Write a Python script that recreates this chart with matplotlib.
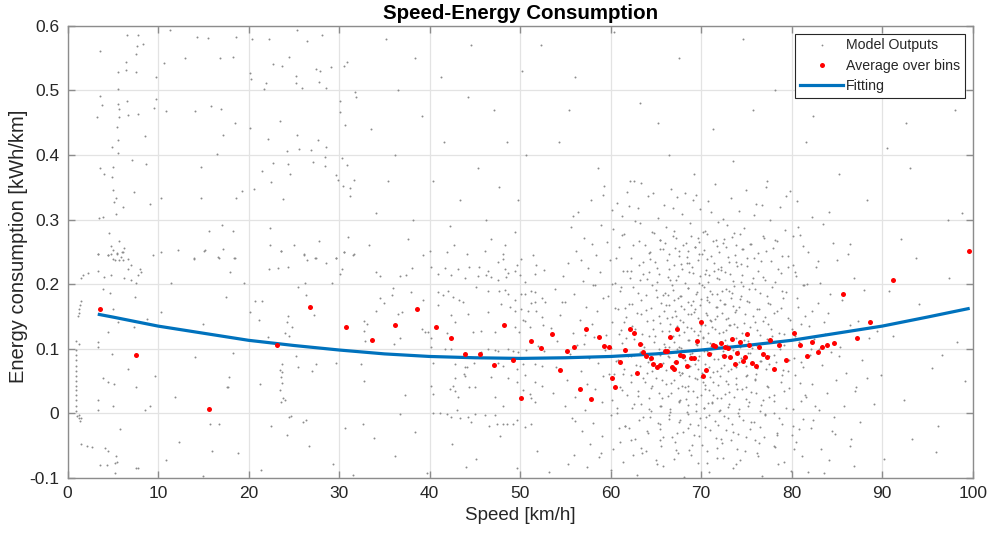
import matplotlib
matplotlib.use('Agg')
import matplotlib.pyplot as plt
from matplotlib.lines import Line2D

plt.rcParams['font.family'] = ['Liberation Sans', 'DejaVu Sans']

# ---------------- data ----------------
title = 'Speed-Energy Consumption'
x_label = 'Speed [km/h]'
y_label = 'Energy consumption [kWh/km]'
x_ticks = [0, 10, 20, 30, 40, 50, 60, 70, 80, 90, 100]
y_ticks = [-0.1, 0, 0.1, 0.2, 0.3, 0.4, 0.5, 0.6]
y_tick_labels = ['-0.1', '0', '0.1', '0.2', '0.3', '0.4', '0.5', '0.6']

# red points: average over bins
avg_speed = [3.54, 7.51, 15.65, 23.13, 26.77, 30.72, 33.62, 36.13, 38.56, 40.73,
             42.39, 43.90, 45.59, 47.07, 48.24, 49.20, 50.09, 51.16, 52.30, 53.51,
             54.36, 55.14, 55.91, 56.64, 57.27, 57.86, 58.67, 59.23, 59.78, 60.14,
             60.48, 61.03, 61.58, 62.10, 62.57, 62.94, 63.27, 63.57, 63.93, 64.45,
             64.71, 65.11, 65.48, 65.97, 66.22, 66.52, 66.77, 66.99, 67.21, 67.36,
             67.66, 67.96, 68.46, 68.84, 69.20, 69.54, 69.94, 70.17, 70.50, 70.90,
             71.27, 71.52, 72.22, 72.49, 72.66, 72.96, 73.18, 73.44, 73.70, 73.99,
             74.25, 74.59, 74.81, 75.09, 75.31, 75.65, 76.05, 76.35, 76.83, 77.24,
             77.64, 78.01, 78.56, 79.37, 80.29, 80.95, 81.66, 82.28, 82.94, 83.38,
             83.93, 84.71, 85.67, 87.18, 88.65, 91.23, 99.56]
avg_energy = [0.161, 0.091, 0.007, 0.106, 0.164, 0.134, 0.114, 0.136, 0.162, 0.134,
              0.116, 0.092, 0.092, 0.075, 0.136, 0.083, 0.024, 0.112, 0.101, 0.123,
              0.067, 0.096, 0.103, 0.038, 0.130, 0.022, 0.118, 0.104, 0.103, 0.054,
              0.041, 0.080, 0.098, 0.130, 0.124, 0.063, 0.108, 0.095, 0.089, 0.086,
              0.076, 0.071, 0.075, 0.096, 0.096, 0.118, 0.071, 0.069, 0.080, 0.131,
              0.090, 0.088, 0.073, 0.085, 0.085, 0.112, 0.141, 0.057, 0.067, 0.092,
              0.105, 0.104, 0.109, 0.088, 0.102, 0.101, 0.087, 0.115, 0.076, 0.093,
              0.111, 0.081, 0.087, 0.123, 0.106, 0.078, 0.073, 0.102, 0.092, 0.087,
              0.114, 0.068, 0.105, 0.083, 0.125, 0.106, 0.088, 0.111, 0.095, 0.102,
              0.105, 0.109, 0.184, 0.117, 0.142, 0.207, 0.251]

# blue fitting curve
fit_speed = [3.5, 5, 10, 15, 20, 25, 30, 35, 40, 45, 50, 55, 60, 65, 70, 75, 80, 85, 90, 95, 99.5]
fit_energy = [0.153, 0.149, 0.135, 0.124, 0.113, 0.105, 0.098, 0.092, 0.088, 0.086, 0.085,
              0.086, 0.088, 0.092, 0.098, 0.105, 0.113, 0.124, 0.135, 0.149, 0.162]

# grey points: model outputs (speed, energy)
gray_streak = [(0.9, 0.098), (0.9, 0.090), (0.95, 0.082), (0.9, 0.074), (0.95, 0.066), (0.9, 0.058),
               (0.95, 0.050), (0.9, 0.043), (0.95, 0.036), (0.9, 0.028), (0.95, 0.020), (0.9, 0.012),
               (0.95, 0.004), (1.0, -0.004), (1.2, -0.008), (1.4, -0.012), (1.3, -0.003), (1.5, -0.007),
               (1.1, 0.150), (1.2, 0.156), (1.3, 0.162), (1.4, 0.168), (1.5, 0.174), (1.2, 0.108), (0.9, 0.112)]
gray_bottom = [(1.5, -0.048), (2.1, -0.050), (2.7, -0.052), (4.1, -0.054), (4.5, -0.058), (5.3, -0.066),
               (5.4, -0.075), (5.2, -0.077), (3.6, -0.080), (4.3, -0.080), (5.2, -0.093), (7.5, -0.084),
               (7.8, -0.084), (10.9, -0.072), (15.0, -0.097), (12.3, -0.045), (18.8, -0.062), (21.4, -0.088),
               (26.7, -0.051), (29.3, -0.079), (33.8, -0.038), (36.2, -0.066), (39.7, -0.092), (42.5, -0.047),
               (45.1, -0.071), (47.8, -0.035), (49.6, -0.085), (51.9, -0.058), (38.4, -0.029), (31.5, -0.095),
               (24.2, -0.033), (15.9, -0.058), (53.2, -0.091), (44.0, -0.083)]
gray_top_left = [(6.6, 0.585), (7.8, 0.585), (3.6, 0.561), (7.7, 0.569), (8.3, 0.572), (7.5, 0.557), (6.4, 0.544),
                 (5.6, 0.528), (6.4, 0.532), (7.6, 0.528), (5.6, 0.502), (9.8, 0.520), (11.3, 0.594), (14.3, 0.582),
                 (15.5, 0.581), (18.6, 0.583), (10.6, 0.543), (13.0, 0.550), (16.8, 0.550), (18.3, 0.552),
                 (20.4, 0.579), (22.2, 0.580), (25.3, 0.593), (26.4, 0.576), (28.1, 0.586), (24.5, 0.552),
                 (22.7, 0.541), (23.7, 0.538), (20.1, 0.527), (20.3, 0.517), (21.9, 0.512), (21.7, 0.502),
                 (25.2, 0.522), (25.2, 0.511), (25.9, 0.503), (27.4, 0.533), (27.9, 0.530), (27.8, 0.513),
                 (28.6, 0.503), (29.1, 0.536), (30.5, 0.537), (30.9, 0.544), (3.6, 0.491), (3.8, 0.478),
                 (3.2, 0.458), (5.6, 0.479), (6.6, 0.483), (5.7, 0.471), (5.7, 0.458), (6.7, 0.462), (7.8, 0.464),
                 (9.5, 0.473), (9.8, 0.486), (5.5, 0.444), (5.6, 0.423), (4.9, 0.412), (5.6, 0.403), (8.5, 0.430),
                 (10.9, 0.468), (14.1, 0.468), (15.8, 0.475), (16.9, 0.471), (18.5, 0.449), (17.2, 0.431),
                 (16.5, 0.402), (20.2, 0.441), (22.1, 0.425), (23.5, 0.453), (25.3, 0.431), (24.2, 0.406),
                 (25.6, 0.409), (26.9, 0.408), (27.7, 0.423), (28.5, 0.412), (30.1, 0.483), (30.1, 0.467),
                 (30.7, 0.447), (31.7, 0.498), (31.9, 0.490), (3.6, 0.380), (5.0, 0.381), (4.0, 0.371),
                 (4.9, 0.366), (7.1, 0.392), (8.7, 0.386), (5.0, 0.346), (7.3, 0.343), (5.3, 0.333), (5.1, 0.327),
                 (6.1, 0.320), (9.1, 0.324), (5.3, 0.308), (3.5, 0.303), (3.9, 0.304), (10.3, 0.334), (14.7, 0.381),
                 (14.7, 0.334), (18.6, 0.333), (19.3, 0.344), (20.6, 0.347), (21.5, 0.375), (22.7, 0.387),
                 (22.5, 0.358), (24.4, 0.386), (24.6, 0.371), (23.8, 0.332), (27.1, 0.389), (28.4, 0.397),
                 (28.4, 0.383), (30.3, 0.396), (30.9, 0.385), (29.7, 0.369), (29.9, 0.361), (30.4, 0.352),
                 (31.2, 0.349), (31.2, 0.337), (31.6, 0.361), (4.6, 0.279), (4.8, 0.259), (5.0, 0.253), (5.7, 0.266),
                 (6.2, 0.256), (6.1, 0.249), (3.4, 0.246), (4.5, 0.245), (5.5, 0.247), (5.0, 0.239), (6.7, 0.239),
                 (9.4, 0.245), (10.3, 0.250), (12.2, 0.253), (14.0, 0.239), (15.1, 0.252), (15.6, 0.283),
                 (17.0, 0.292), (18.3, 0.282), (17.2, 0.254), (18.4, 0.240), (16.7, 0.241), (22.4, 0.287),
                 (22.4, 0.260), (23.6, 0.252), (25.0, 0.260), (27.8, 0.267), (26.1, 0.246), (27.3, 0.241),
                 (29.6, 0.241), (30.5, 0.250), (31.0, 0.273), (31.6, 0.246)]
gray_mid_left = [(3.4, 0.247), (4.5, 0.245), (4.8, 0.247), (5.5, 0.248), (6.0, 0.249), (5.9, 0.242), (6.1, 0.238),
                 (5.2, 0.238), (5.7, 0.237), (7.0, 0.230), (6.7, 0.224), (8.0, 0.224), (8.1, 0.219), (7.8, 0.214),
                 (7.6, 0.201), (1.7, 0.214), (1.5, 0.209), (2.2, 0.217), (3.4, 0.221), (4.0, 0.211), (4.8, 0.214),
                 (6.2, 0.209), (7.0, 0.206), (11.4, 0.201), (14.0, 0.240),
                 (15.2, 0.253), (16.6, 0.242), (3.9, 0.193), (4.7, 0.186), (7.4, 0.180), (17.5, 0.180),
                 (5.0, 0.161), (10.3, 0.157), (8.8, 0.146), (5.6, 0.142), (7.3, 0.134), (4.5, 0.126),
                 (15.0, 0.138), (3.4, 0.111), (3.4, 0.102), (4.9, 0.092), (6.7, 0.069), (3.9, 0.054),
                 (4.5, 0.049), (5.1, 0.045), (7.5, 0.040), (9.7, 0.058), (14.1, 0.087), (11.9, 0.025),
                 (17.6, 0.040), (3.4, 0.020), (3.4, 0.005), (5.0, 0.011), (9.1, 0.011), (8.6, 0.005),
                 (15.7, -0.017), (16.7, -0.017), (5.8, -0.024),
                 (18.5, 0.241), (23.6, 0.252), (26.1, 0.245), (26.4, 0.237), (27.4, 0.241), (29.7, 0.241),
                 (30.5, 0.250), (31.5, 0.245), (28.6, 0.232), (17.9, 0.219), (22.2, 0.224), (23.2, 0.225),
                 (24.3, 0.226), (30.3, 0.224), (30.1, 0.215), (34.1, 0.218), (34.5, 0.213), (19.5, 0.202),
                 (26.2, 0.201), (25.5, 0.196), (26.3, 0.183), (29.2, 0.202), (20.7, 0.174), (21.5, 0.174),
                 (20.1, 0.157), (24.3, 0.151), (27.2, 0.152), (21.1, 0.144), (24.2, 0.142), (24.8, 0.134),
                 (24.0, 0.125), (24.5, 0.120), (22.1, 0.118), (34.5, 0.178), (35.0, 0.171), (34.1, 0.159),
                 (32.7, 0.143), (33.1, 0.139), (32.7, 0.127), (32.9, 0.112), (18.3, 0.093), (23.7, 0.077),
                 (23.5, 0.067), (23.7, 0.064), (23.6, 0.056), (23.7, 0.047), (23.5, 0.036), (23.8, 0.023),
                 (24.0, 0.021), (23.6, 0.018), (25.2, 0.089), (25.4, 0.072), (27.0, 0.065), (27.4, 0.077),
                 (29.6, 0.078), (32.4, 0.077), (17.8, 0.056), (17.7, 0.040), (21.3, 0.045), (32.8, 0.050),
                 (24.5, -0.005), (24.7, -0.004), (22.5, -0.020), (26.0, -0.013), (26.3, -0.011), (30.7, -0.022),
                 (32.6, -0.017)]
gray_mid = [(39.3, 0.245), (40.0, 0.251), (41.9, 0.250), (44.1, 0.247), (46.1, 0.252), (48.1, 0.246), (48.1, 0.239),
            (50.1, 0.239), (51.4, 0.245), (40.2, 0.226), (41.7, 0.225), (43.1, 0.224), (44.4, 0.226), (45.4, 0.226),
            (46.5, 0.221), (47.5, 0.234), (48.3, 0.224), (49.6, 0.229), (51.8, 0.229), (37.4, 0.214), (36.7, 0.212),
            (38.0, 0.225), (40.9, 0.215), (42.4, 0.214), (43.9, 0.210), (45.3, 0.212), (46.2, 0.214), (46.8, 0.211),
            (47.6, 0.207), (48.4, 0.211), (48.7, 0.217), (49.4, 0.221), (50.0, 0.214), (50.5, 0.203), (51.6, 0.215),
            (52.6, 0.222), (36.0, 0.194), (35.8, 0.183), (37.9, 0.188), (39.3, 0.176), (40.9, 0.188), (41.5, 0.183),
            (42.0, 0.190), (42.6, 0.180), (43.2, 0.175), (43.7, 0.172), (45.1, 0.196), (46.5, 0.190), (47.7, 0.189),
            (48.3, 0.191), (48.7, 0.185), (49.4, 0.176), (50.1, 0.185), (50.5, 0.184), (51.2, 0.190), (51.6, 0.188),
            (52.4, 0.179), (52.7, 0.172), (51.6, 0.172), (51.2, 0.171), (36.9, 0.157), (36.5, 0.153), (40.9, 0.167),
            (42.4, 0.152), (44.2, 0.153), (46.4, 0.157), (47.9, 0.170), (48.9, 0.164), (49.4, 0.158), (50.1, 0.162),
            (50.9, 0.158), (51.8, 0.158), (52.4, 0.149), (50.3, 0.144), (39.1, 0.131), (39.5, 0.126), (39.8, 0.126),
            (40.2, 0.116), (41.9, 0.124), (42.8, 0.141), (44.8, 0.126), (45.7, 0.128), (47.2, 0.126), (49.4, 0.134),
            (49.9, 0.126), (50.5, 0.143), (51.1, 0.134), (52.5, 0.136), (36.7, 0.116), (36.1, 0.108), (40.2, 0.103),
            (41.7, 0.099), (42.4, 0.099), (46.5, 0.099), (47.2, 0.098), (47.6, 0.096), (45.7, 0.095), (48.7, 0.099),
            (49.2, 0.096), (49.8, 0.095), (50.7, 0.098), (52.0, 0.104), (52.6, 0.096), (40.4, 0.078), (42.8, 0.077),
            (43.9, 0.071), (44.1, 0.071), (44.9, 0.078), (47.6, 0.078), (48.1, 0.073), (49.6, 0.069), (50.3, 0.077),
            (51.6, 0.077), (52.4, 0.074), (43.8, 0.061), (43.9, 0.057), (42.8, 0.054), (40.2, 0.043), (42.2, 0.038),
            (42.6, 0.043), (44.4, 0.041), (45.0, 0.040), (46.8, 0.056), (48.7, 0.054), (49.6, 0.048), (50.5, 0.059),
            (51.6, 0.048), (52.4, 0.043), (37.3, 0.028), (40.4, 0.030), (42.8, 0.034), (43.1, 0.025), (47.2, 0.025),
            (48.1, 0.012), (50.3, 0.036), (51.1, 0.030), (51.2, 0.024), (51.6, 0.018), (36.7, -0.001), (40.4, 0.000),
            (41.1, 0.000), (41.9, -0.001), (42.4, -0.005), (43.0, 0.005), (43.3, -0.008), (44.2, -0.006),
            (44.6, -0.013), (45.0, -0.001), (46.1, -0.003), (47.2, -0.003), (47.4, -0.016), (48.1, -0.016),
            (48.6, -0.016), (49.2, -0.016), (49.7, -0.011), (46.6, -0.019), (50.5, -0.021), (51.2, -0.016)]
gray_upper = [(35.2, 0.58), (38.4, 0.55), (41.3, 0.52), (44.6, 0.57), (47.1, 0.47), (33.5, 0.44), (36.2, 0.40),
              (40.4, 0.36), (43.3, 0.33), (46.2, 0.30), (49.4, 0.28), (34.1, 0.31), (37.6, 0.27), (42.2, 0.29),
              (45.3, 0.38), (48.6, 0.42), (50.2, 0.53), (39.1, 0.46), (44.2, 0.49), (47.7, 0.35), (33.3, 0.26),
              (49.8, 0.33), (36.5, 0.50), (41.6, 0.42), (46.8, 0.27), (38.2, 0.30), (42.7, 0.26), (48.3, 0.26),
              (35.4, 0.36), (50.6, 0.40), (52.3, 0.57), (56.1, 0.52), (60.4, 0.59), (63.2, 0.48), (67.5, 0.55),
              (71.3, 0.44), (74.6, 0.58), (78.2, 0.50), (82.4, 0.46), (86.3, 0.56), (90.5, 0.41), (94.2, 0.53),
              (98.1, 0.47), (54.3, 0.42), (58.6, 0.38), (62.1, 0.36), (66.4, 0.40), (69.2, 0.37), (73.5, 0.39),
              (77.3, 0.36), (81.6, 0.42), (85.2, 0.37), (89.4, 0.52), (93.1, 0.38), (97.3, 0.30), (55.4, 0.47),
              (65.2, 0.45), (75.7, 0.47), (88.3, 0.33), (92.6, 0.45), (91.2, 0.12), (92.4, 0.02), (93.3, -0.04),
              (94.1, 0.17), (95.5, 0.07), (96.2, -0.02), (97.4, 0.21), (98.3, 0.11), (99.1, 0.05), (90.2, -0.07),
              (92.1, 0.27), (96.6, 0.09), (90.8, 0.19), (93.7, 0.24), (95.9, -0.06), (98.8, 0.31), (89.9, 0.06)]
gray_edges = [(55.8, 0.305), (57.9, 0.262), (59.1, 0.338), (56.7, 0.238), (58.3, 0.198), (60.2, 0.315),
              (54.6, 0.172), (57.2, 0.121), (59.8, 0.061), (56.1, -0.012), (58.9, -0.061), (55.3, -0.078),
              (80.7, 0.288), (82.9, 0.236), (84.1, 0.311), (86.4, 0.262), (81.4, 0.198), (83.6, 0.142),
              (85.2, 0.089), (87.1, 0.041), (82.6, 0.012), (84.8, -0.032), (86.9, -0.082), (81.8, -0.091),
              (79.4, 0.337), (76.7, 0.322), (64.7, 0.341), (66.9, 0.318), (63.2, 0.295), (69.1, 0.331)]

# dense cloud, read band by band (energy bands of 0.02)
dense_x = [
    [59.3, 61.8, 63.4, 66.7, 68.2, 71.5, 74.9, 77.2, 62.6, 79.8],
    [57.8, 60.7, 64.1, 65.9, 69.4, 70.8, 73.3, 76.1, 80.6, 67.3, 62.0],
    [56.4, 61.2, 63.0, 65.2, 67.9, 69.9, 72.4, 74.2, 75.8, 78.7, 82.3, 71.1],
    [58.9, 60.3, 62.7, 64.6, 66.1, 68.8, 70.4, 72.9, 74.7, 77.6, 79.3, 83.5, 55.6, 71.9, 67.0],
    [57.1, 59.6, 61.5, 63.8, 65.5, 66.9, 68.3, 69.7, 71.3, 73.6, 75.4, 76.8, 78.2, 80.9, 84.6, 72.5],
    [56.2, 58.4, 60.9, 62.3, 64.4, 65.8, 67.5, 68.6, 70.1, 71.7, 73.0, 74.5, 76.3, 77.9, 79.6, 81.8, 86.2, 69.3],
    [55.3, 57.5, 59.9, 61.4, 63.1, 64.9, 66.4, 67.8, 69.0, 70.6, 72.2, 73.8, 75.1, 76.6, 78.5, 80.2, 82.7, 85.0, 68.4, 71.4],
    [54.7, 56.9, 58.8, 60.5, 62.1, 63.6, 65.1, 66.3, 67.2, 68.7, 69.8, 70.9, 72.0, 73.2, 74.4, 75.7, 77.0, 78.8, 80.5, 83.1, 86.9, 64.2],
    [53.9, 56.0, 58.1, 59.7, 61.0, 62.5, 63.9, 65.0, 66.0, 66.8, 67.7, 68.5, 69.5, 70.3, 71.2, 72.3, 73.4, 74.6, 75.9, 77.3, 78.9, 81.2, 84.2, 88.0],
    [55.0, 57.3, 59.1, 60.8, 62.0, 63.3, 64.5, 65.6, 66.5, 67.4, 68.1, 69.1, 69.9, 70.7, 71.6, 72.6, 73.5, 74.3, 75.3, 76.4, 77.6, 79.0, 80.7, 82.9, 85.6, 61.6],
    [54.4, 56.6, 58.5, 60.2, 61.7, 62.9, 64.0, 65.3, 66.2, 67.1, 68.0, 68.9, 69.6, 70.5, 71.0, 71.8, 72.7, 73.7, 74.8, 76.0, 77.1, 78.4, 79.8, 81.5, 84.0, 87.3],
    [53.4, 55.8, 57.9, 59.5, 61.1, 62.4, 63.5, 64.7, 65.7, 66.6, 67.5, 68.4, 69.2, 70.0, 70.8, 71.5, 72.4, 73.1, 74.0, 75.0, 76.2, 77.4, 78.6, 80.0, 81.9, 83.7, 86.5, 89.4],
    [54.1, 56.3, 58.2, 60.0, 61.3, 62.6, 63.7, 64.8, 65.9, 66.9, 67.6, 68.6, 69.4, 70.2, 71.1, 72.1, 72.9, 73.9, 74.7, 75.6, 76.7, 77.8, 79.2, 80.8, 82.5, 85.3, 88.6, 57.0],
    [55.5, 57.6, 59.4, 60.6, 62.2, 63.2, 64.3, 65.4, 66.4, 67.3, 68.2, 69.0, 69.8, 70.6, 71.4, 72.3, 73.2, 74.1, 75.2, 76.5, 77.5, 78.7, 80.3, 82.0, 84.4, 87.8, 61.9],
    [54.0, 56.7, 58.6, 60.4, 61.5, 62.8, 64.0, 65.0, 66.1, 67.0, 67.9, 68.8, 69.7, 70.4, 71.3, 72.2, 73.0, 74.0, 75.0, 76.1, 77.2, 78.3, 79.6, 81.3, 83.4, 86.0],
    [55.2, 57.4, 59.2, 61.0, 62.3, 63.6, 64.6, 65.7, 66.7, 67.7, 68.5, 69.3, 70.2, 71.0, 71.9, 72.8, 73.8, 74.9, 76.0, 77.4, 78.8, 80.4, 82.2, 84.9, 88.3],
    [53.6, 56.1, 58.3, 60.1, 61.8, 63.0, 64.2, 65.3, 66.3, 67.4, 68.3, 69.1, 70.0, 70.9, 71.7, 72.6, 73.6, 74.5, 75.5, 76.8, 78.1, 79.7, 81.6, 83.9, 87.0],
    [54.9, 57.2, 59.0, 60.7, 62.4, 63.4, 64.5, 65.6, 66.6, 67.5, 68.4, 69.4, 70.3, 71.2, 72.0, 73.0, 74.2, 75.3, 76.6, 78.0, 79.4, 81.0, 83.0, 85.8, 89.1],
    [55.7, 58.0, 60.0, 61.6, 63.1, 64.4, 65.5, 66.4, 67.6, 68.6, 69.6, 70.5, 71.5, 72.5, 73.4, 74.6, 75.8, 77.0, 78.6, 80.1, 82.4, 84.7, 87.5],
    [56.8, 59.0, 60.9, 62.7, 64.1, 65.4, 66.8, 68.0, 69.2, 70.4, 71.6, 72.8, 74.1, 75.4, 76.9, 78.4, 80.0, 82.1, 84.5, 86.6],
    [57.7, 60.3, 62.2, 63.9, 65.6, 67.1, 68.7, 70.1, 71.8, 73.3, 74.8, 76.4, 78.2, 80.5, 83.2, 86.4],
    [58.7, 61.4, 63.5, 65.1, 67.0, 68.9, 70.7, 72.4, 74.3, 76.2, 78.5, 81.1, 84.1, 55.9],
    [60.0, 62.9, 65.8, 68.1, 70.9, 73.5, 76.7, 79.9, 83.6, 57.4],
    # core of the cloud (second pass)
    [61.3, 63.1, 64.8, 66.0, 67.2, 68.0, 68.9, 69.8, 70.7, 71.6, 72.4, 73.4, 74.3, 75.5, 76.9, 78.4, 80.2, 65.4, 70.2, 73.9],
    [60.6, 62.5, 64.2, 65.5, 66.5, 67.6, 68.4, 69.3, 70.3, 71.1, 72.0, 72.8, 73.7, 74.6, 75.8, 77.2, 78.9, 81.2, 69.8, 67.1],
    [61.8, 63.6, 65.1, 66.2, 67.0, 67.9, 68.7, 69.6, 70.5, 71.4, 72.2, 73.1, 74.0, 75.1, 76.3, 77.7, 79.6, 64.3, 71.9, 74.4],
    [60.2, 62.3, 64.0, 65.3, 66.6, 67.4, 68.2, 69.1, 69.9, 70.8, 71.7, 72.6, 73.5, 74.5, 75.6, 76.8, 78.2, 80.4, 63.2, 70.4],
    [61.1, 63.0, 64.6, 65.8, 66.9, 67.8, 68.6, 69.4, 70.1, 71.0, 71.8, 72.7, 73.6, 74.4, 75.3, 76.5, 77.8, 79.4, 81.7, 70.6, 73.1, 66.3],
    [60.5, 62.4, 63.9, 65.1, 66.1, 67.0, 67.8, 68.5, 69.3, 70.0, 70.9, 71.7, 72.5, 73.3, 74.2, 75.1, 76.2, 77.4, 78.8, 80.6, 68.9, 72.1],
    [61.5, 63.3, 64.7, 65.9, 66.8, 67.7, 68.5, 69.2, 69.9, 70.7, 71.5, 72.3, 73.0, 73.9, 74.7, 75.7, 76.8, 78.0, 79.6, 82.2, 71.1, 67.2],
    [60.9, 62.7, 64.2, 65.4, 66.4, 67.3, 68.1, 68.9, 69.6, 70.4, 71.2, 72.0, 72.8, 73.6, 74.5, 75.4, 76.5, 77.7, 79.1, 81.0, 69.9, 73.2],
    [61.7, 63.5, 64.9, 66.0, 67.0, 67.8, 68.7, 69.5, 70.2, 71.0, 71.8, 72.6, 73.4, 74.3, 75.2, 76.1, 77.3, 78.7, 80.4, 83.0, 70.6, 66.5],
    [60.8, 62.6, 64.1, 65.3, 66.3, 67.2, 68.0, 68.8, 69.6, 70.3, 71.1, 71.9, 72.7, 73.5, 74.4, 75.4, 76.6, 78.0, 79.7, 82.1, 69.2, 72.4],
    [61.4, 63.2, 64.6, 65.8, 66.8, 67.6, 68.5, 69.3, 70.1, 70.9, 71.7, 72.5, 73.3, 74.2, 75.1, 76.2, 77.5, 79.0, 81.0, 67.9, 73.8],
    [60.4, 62.2, 63.8, 65.0, 66.1, 67.0, 67.9, 68.7, 69.5, 70.4, 71.3, 72.1, 73.0, 73.9, 74.9, 76.0, 77.3, 78.9, 80.9, 70.0],
    [61.2, 63.0, 64.5, 65.7, 66.7, 67.7, 68.6, 69.5, 70.4, 71.3, 72.2, 73.1, 74.0, 75.0, 76.1, 77.5, 79.2, 81.5, 68.2],
    [60.7, 62.6, 64.2, 65.5, 66.6, 67.6, 68.5, 69.4, 70.3, 71.2, 72.1, 73.1, 74.1, 75.2, 76.5, 78.1, 80.1, 70.8],
    [61.6, 63.6, 65.2, 66.5, 67.7, 68.8, 69.9, 70.9, 71.9, 73.0, 74.2, 75.5, 77.0, 78.9, 81.3],
    [62.0, 64.0, 65.8, 67.3, 68.6, 69.8, 71.0, 72.2, 73.5, 74.9, 76.5, 78.4, 80.8],
    [61.0, 63.4, 65.4, 67.2, 69.0, 70.6, 72.3, 74.0, 75.9, 78.0, 80.3],
    [62.5, 65.0, 67.4, 69.6, 71.7, 73.9, 76.3, 79.2]]
dense_y = [
    [.352, .343, .357, .348, .341, .355, .346, .350, .359, .344],
    [.331, .325, .336, .322, .338, .328, .333, .324, .329, .335, .321],
    [.312, .305, .318, .302, .309, .316, .301, .313, .307, .319, .304, .311],
    [.292, .285, .298, .281, .289, .295, .283, .291, .287, .299, .284, .293, .288, .296, .282],
    [.272, .265, .278, .261, .269, .275, .263, .271, .267, .279, .262, .274, .268, .276, .264, .270],
    [.252, .245, .258, .241, .249, .255, .243, .251, .247, .259, .242, .254, .248, .256, .244, .250, .246, .257],
    [.232, .225, .238, .221, .229, .235, .223, .231, .227, .239, .222, .234, .228, .236, .224, .230, .226, .237, .233, .221],
    [.212, .205, .218, .201, .209, .215, .203, .211, .207, .219, .202, .214, .208, .216, .204, .210, .206, .217, .213, .201, .209, .219],
    [.192, .185, .198, .181, .189, .195, .183, .191, .187, .199, .182, .194, .188, .196, .184, .190, .186, .197, .193, .181, .189, .199, .185, .191],
    [.172, .165, .178, .161, .169, .175, .163, .171, .167, .179, .162, .174, .168, .176, .164, .170, .166, .177, .173, .161, .169, .179, .165, .171, .175, .163],
    [.152, .145, .158, .141, .149, .155, .143, .151, .147, .159, .142, .154, .148, .156, .144, .150, .146, .157, .153, .141, .149, .159, .145, .151, .155, .143],
    [.132, .125, .138, .121, .129, .135, .123, .131, .127, .139, .122, .134, .128, .136, .124, .130, .126, .137, .133, .121, .129, .139, .125, .131, .135, .123, .137, .128],
    [.112, .105, .118, .101, .109, .115, .103, .111, .107, .119, .102, .114, .108, .116, .104, .110, .106, .117, .113, .101, .109, .119, .105, .111, .115, .103, .117, .108],
    [.092, .085, .098, .081, .089, .095, .083, .091, .087, .099, .082, .094, .088, .096, .084, .090, .086, .097, .093, .081, .089, .099, .085, .091, .095, .083, .088],
    [.072, .065, .078, .061, .069, .075, .063, .071, .067, .079, .062, .074, .068, .076, .064, .070, .066, .077, .073, .061, .069, .079, .065, .071, .075, .063],
    [.052, .045, .058, .041, .049, .055, .043, .051, .047, .059, .042, .054, .048, .056, .044, .050, .046, .057, .053, .041, .049, .059, .045, .051, .055],
    [.032, .025, .038, .021, .029, .035, .023, .031, .027, .039, .022, .034, .028, .036, .024, .030, .026, .037, .033, .021, .029, .039, .025, .031, .035],
    [.012, .005, .018, .001, .009, .015, .003, .011, .007, .019, .002, .014, .008, .016, .004, .010, .006, .017, .013, .001, .009, .019, .005, .011, .015],
    [-.008, -.015, -.002, -.019, -.011, -.005, -.017, -.009, -.013, -.001, -.018, -.006, -.012, -.004, -.016, -.010, -.014, -.003, -.007, -.019, -.011, -.005, -.013],
    [-.028, -.035, -.022, -.039, -.031, -.025, -.037, -.029, -.033, -.021, -.038, -.026, -.032, -.024, -.036, -.030, -.034, -.023, -.027, -.039],
    [-.048, -.055, -.042, -.059, -.051, -.045, -.057, -.049, -.053, -.041, -.058, -.046, -.052, -.044, -.056, -.050],
    [-.068, -.075, -.062, -.079, -.071, -.065, -.077, -.069, -.073, -.061, -.078, -.066, -.072, -.064],
    [-.088, -.095, -.082, -.098, -.091, -.085, -.097, -.089, -.093, -.083],
    [.276, .267, .279, .263, .271, .261, .274, .265, .278, .269, .264, .273, .277, .262, .272, .266, .275, .268, .280, .260],
    [.240, .260, .248, .255, .246, .252, .242, .257, .253, .244, .249, .258, .245, .254, .241, .251, .243, .259, .247, .256],
    [.221, .234, .225, .238, .229, .224, .233, .237, .222, .232, .226, .235, .228, .240, .220, .236, .227, .239, .223, .231],
    [.200, .220, .208, .215, .206, .212, .202, .217, .213, .204, .209, .218, .205, .214, .201, .211, .203, .219, .207, .216],
    [.196, .187, .199, .183, .191, .181, .194, .185, .198, .189, .184, .193, .197, .182, .192, .186, .195, .188, .200, .180, .190, .183],
    [.163, .170, .160, .180, .168, .175, .166, .172, .162, .177, .173, .164, .169, .178, .165, .174, .161, .171, .163, .179, .167, .176],
    [.141, .154, .145, .158, .149, .144, .153, .157, .142, .152, .146, .155, .148, .160, .140, .150, .143, .156, .147, .159, .143, .151],
    [.123, .130, .120, .140, .128, .135, .126, .132, .122, .137, .133, .124, .129, .138, .125, .134, .121, .131, .123, .139, .127, .136],
    [.116, .107, .119, .103, .111, .101, .114, .105, .118, .109, .104, .113, .117, .102, .112, .106, .115, .108, .120, .100, .110, .103],
    [.083, .090, .080, .100, .088, .095, .086, .092, .082, .097, .093, .084, .089, .098, .085, .094, .081, .091, .083, .099, .087, .096],
    [.061, .074, .065, .078, .069, .064, .073, .077, .062, .072, .066, .075, .068, .080, .060, .070, .076, .067, .079, .063, .071],
    [.040, .060, .048, .055, .046, .052, .042, .057, .053, .044, .049, .058, .045, .054, .041, .051, .043, .059, .047, .056],
    [.036, .027, .039, .023, .031, .021, .034, .025, .038, .029, .024, .033, .037, .022, .032, .026, .035, .028, .040],
    [.008, .015, .006, .012, .002, .017, .013, .004, .009, .018, .005, .014, .001, .011, .003, .019, .007, .016],
    [-.019, -.006, -.015, -.002, -.011, -.016, -.007, -.003, -.018, -.008, -.004, -.013, -.001, -.017, -.009],
    [-.023, -.027, -.036, -.031, -.022, -.035, -.026, -.039, -.029, -.037, -.021, -.033, -.024],
    [-.044, -.053, -.041, -.057, -.049, -.059, -.046, -.055, -.042, -.051, -.056],
    [-.064, -.073, -.061, -.077, -.069, -.079, -.066, -.075]]

gray_all = gray_streak + gray_bottom + gray_top_left + gray_mid_left + gray_mid + gray_upper + gray_edges
gray_speed = [p[0] for p in gray_all]
gray_energy = [p[1] for p in gray_all]
for xs, ys in zip(dense_x, dense_y):
    gray_speed += xs
    gray_energy += ys

# ---------------- styling ----------------
axis_gray = '#8c8c8c'
grid_gray = '#e3e3e3'
text_col = '#262626'
blue = '#0072BD'

fig = plt.figure(figsize=(9.92, 5.35), dpi=100)
ax = fig.add_axes([0.0682, 0.1067, 0.9123, 0.8452])

ax.scatter(gray_speed, gray_energy, s=2.0, c='#8c8c8c', marker='o', linewidths=0, zorder=2)
ax.plot(avg_speed, avg_energy, 'o', color='#ff0000', markersize=3.6, markeredgewidth=0, zorder=4)
ax.plot(fit_speed, fit_energy, '-', color=blue, linewidth=2.3, zorder=3)

ax.set_xlim(0, 100)
ax.set_ylim(-0.1, 0.6)
ax.set_xticks(x_ticks)
ax.set_xticklabels([str(t) for t in x_ticks])
ax.set_yticks(y_ticks)
ax.set_yticklabels(y_tick_labels)
ax.grid(True, color=grid_gray, linewidth=0.9, zorder=0)
ax.set_axisbelow(True)
for s in ax.spines.values():
    s.set_color(axis_gray)
    s.set_linewidth(1.0)
ax.tick_params(direction='in', top=True, right=True, length=5, width=1.0,
               color=axis_gray, labelcolor=text_col, labelsize=12.5, pad=6)
ax.set_xlabel(x_label, fontsize=13.5, color=text_col, labelpad=4)
ax.set_ylabel(y_label, fontsize=14.5, color=text_col)
ax.yaxis.set_label_coords(-0.0435, 0.513)
ax.set_title(title, fontsize=14.8, fontweight='bold', color='black', pad=5)

handles = [Line2D([], [], linestyle='none', marker='o', markersize=1.3, color='#8a8a8a', markeredgewidth=0),
           Line2D([], [], linestyle='none', marker='o', markersize=3.6, color='#ff0000', markeredgewidth=0),
           Line2D([], [], color=blue, linewidth=2.3)]
leg = ax.legend(handles, ['Model Outputs', 'Average over bins', 'Fitting'], loc='upper right',
                fontsize=10.2, frameon=True, fancybox=False, framealpha=1, edgecolor='#262626',
                borderaxespad=0.55, handlelength=3.0, handletextpad=0.2, labelspacing=0.45, borderpad=0.35)
leg.get_frame().set_linewidth(0.8)
for t in leg.get_texts():
    t.set_color(text_col)

fig.savefig('out.png', dpi=100)
